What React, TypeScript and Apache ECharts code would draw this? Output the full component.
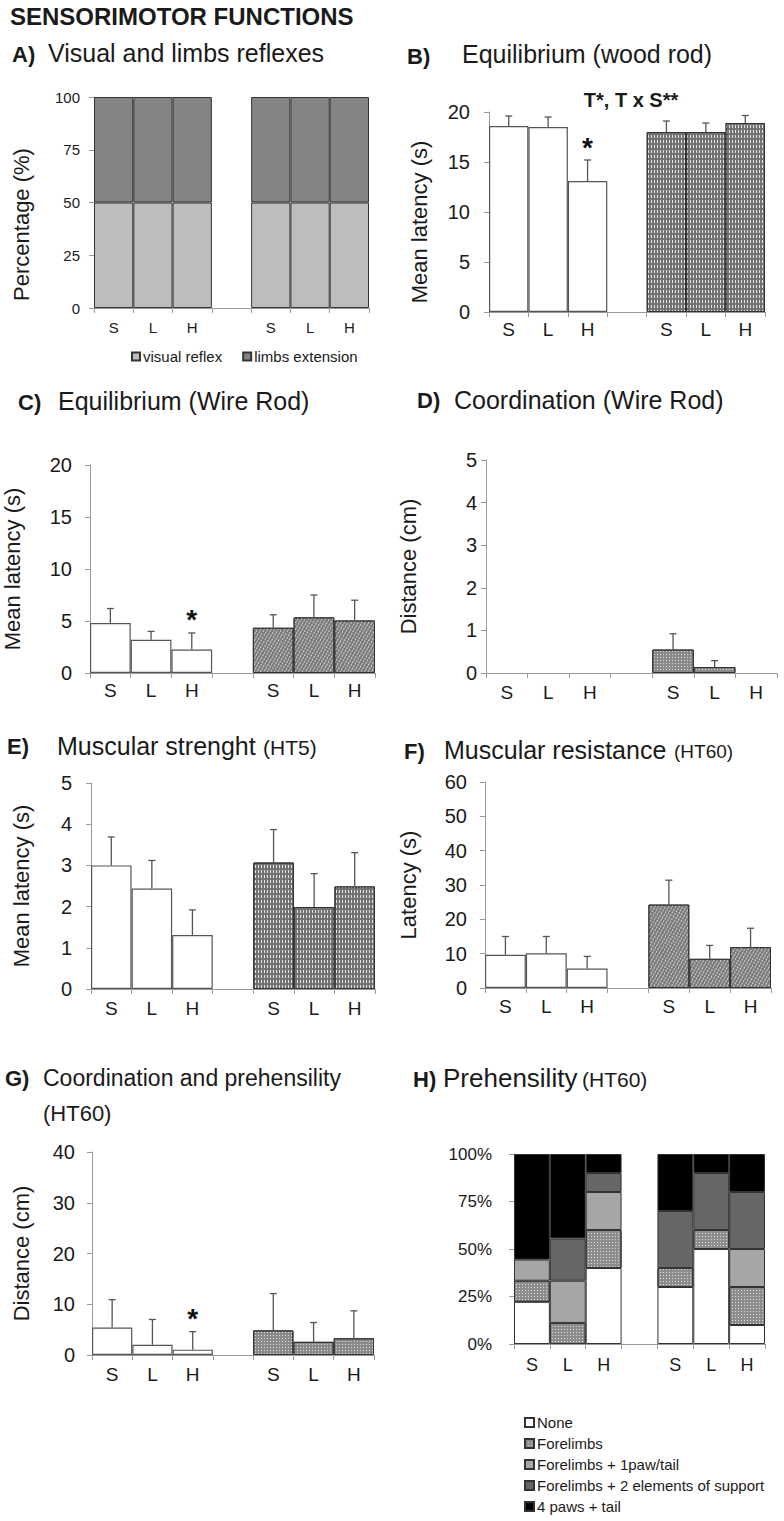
import React, { useEffect, useRef } from 'react';
import * as echarts from 'echarts';

// ---------- DATA ----------
const CATS = ['S1', 'L1', 'H1', 'gap', 'S2', 'L2', 'H2'];

// A) Visual and limbs reflexes (percentage, 6 groups)
const A_VISUAL = [50, 50, 50, 50, 50, 50];
const A_LIMBS = [50, 50, 50, 50, 50, 50];

// B) Equilibrium (wood rod)
const B_CTRL = [18.6, 18.5, 13.1];
const B_CTRL_SEM = [1.0, 1.0, 2.1];
const B_TRT = [18.0, 18.0, 18.9];
const B_TRT_SEM = [1.1, 0.9, 0.75];

// C) Equilibrium (Wire Rod)
const C_CTRL = [4.8, 3.2, 2.25];
const C_CTRL_SEM = [1.4, 0.8, 1.6];
const C_TRT = [4.35, 5.35, 5.05];
const C_TRT_SEM = [1.25, 2.15, 1.95];

// D) Coordination (Wire Rod)
const D_CTRL = [0, 0, 0];
const D_CTRL_SEM = [0, 0, 0];
const D_TRT = [0.55, 0.14, 0];
const D_TRT_SEM = [0.37, 0.15, 0];

// E) Muscular strenght (HT5)
const E_CTRL = [3.0, 2.44, 1.31];
const E_CTRL_SEM = [0.69, 0.68, 0.61];
const E_TRT = [3.07, 1.99, 2.49];
const E_TRT_SEM = [0.8, 0.81, 0.82];

// F) Muscular resistance (HT60)
const F_CTRL = [9.7, 10.1, 5.7];
const F_CTRL_SEM = [5.3, 4.9, 3.5];
const F_TRT = [24.3, 8.5, 11.9];
const F_TRT_SEM = [7.1, 3.9, 5.5];

// G) Coordination and prehensility (HT60)
const G_CTRL = [5.4, 2.0, 1.05];
const G_CTRL_SEM = [5.5, 5.0, 3.55];
const G_TRT = [4.85, 2.6, 3.3];
const G_TRT_SEM = [7.25, 3.8, 5.4];

// H) Prehensility (HT60), percentages (6 groups)
const H_NONE = [22.2, 0, 40, 30, 50, 10];
const H_FORE = [11.1, 11.1, 20, 10, 10, 20];
const H_FORE_1 = [11.1, 22.2, 20, 0, 0, 20];
const H_FORE_2 = [0, 22.2, 10, 30, 30, 30];
const H_PAWS = [55.6, 44.5, 10, 30, 10, 20];

const A_LEGEND = ['visual reflex', 'limbs extension'];
const H_LEGEND = ['None', 'Forelimbs', 'Forelimbs + 1paw/tail', 'Forelimbs + 2 elements of support', '4 paws + tail'];

// ---------- HELPERS ----------
const FONT = '"Liberation Sans", Arial, Helvetica, sans-serif';
const TXT = '#1a1a1a';
const AX = '#9a9a9a';

const six = (arr: number[]) => [arr[0], arr[1], arr[2], '-', arr[3], arr[4], arr[5]].map((v) => (v === 0 ? '-' : v));
const ctrlSlots = (arr: number[]) => [arr[0], arr[1], arr[2], '-', '-', '-', '-'].map((v) => (v === 0 ? '-' : v));
const trtSlots = (arr: number[]) => ['-', '-', '-', '-', arr[0], arr[1], arr[2]].map((v) => (v === 0 ? '-' : v));

const GRIDS = [
  { left: 94, top: 97, width: 275, height: 211 }, // A
  { left: 489, top: 112, width: 276, height: 200 }, // B
  { left: 90, top: 465, width: 285, height: 208 }, // C
  { left: 486, top: 460, width: 291, height: 213 }, // D
  { left: 91, top: 783, width: 284, height: 206 }, // E
  { left: 485, top: 782, width: 286, height: 206 }, // F
  { left: 92, top: 1152, width: 282, height: 203 }, // G
  { left: 514, top: 1154, width: 251, height: 190 }, // H
];

const makeX = (gi: number, fontSize: number, margin: number, family = FONT) => ({
  type: 'category',
  gridIndex: gi,
  data: CATS,
  axisLine: { show: true, lineStyle: { color: AX, width: 1 } },
  axisTick: { show: true, interval: 0, length: 5, lineStyle: { color: AX } },
  axisLabel: {
    interval: 0,
    fontSize,
    margin,
    color: TXT,
    fontFamily: family,
    formatter: (v: string) => (v === 'gap' ? '' : v.replace(/\d/, '')),
  },
  z: 1,
});

const makeY = (
  gi: number,
  max: number,
  interval: number,
  fontSize: number,
  margin: number,
  name: string,
  nameGap: number,
  namePad: number[] = [0, 0, 0, 0],
  fmt?: string,
  family = FONT,
) => ({
  type: 'value',
  gridIndex: gi,
  min: 0,
  max,
  interval,
  axisLine: { show: true, lineStyle: { color: AX, width: 1 } },
  axisTick: { show: true, length: 5, lineStyle: { color: AX } },
  splitLine: { show: false },
  axisLabel: { fontSize, margin, color: TXT, fontFamily: family, formatter: fmt || '{value}' },
  name,
  nameLocation: 'middle',
  nameRotate: 90,
  nameGap,
  nameTextStyle: { fontSize: 22, color: TXT, fontFamily: FONT, padding: namePad },
  z: 1,
});

const decal = (kind: string) => {
  if (kind === 'wave')
    return { symbol: 'rect', symbolSize: 1, color: 'rgba(255,255,255,0.8)', dashArrayX: [1, 2], dashArrayY: [3, 2], rotation: 0 };
  if (kind === 'dots')
    return { symbol: 'rect', symbolSize: 1, color: 'rgba(255,255,255,0.7)', dashArrayX: [1, 2], dashArrayY: [1, 2], rotation: 0 };
  return { symbol: 'rect', symbolSize: 1, color: 'rgba(255,255,255,0.7)', dashArrayX: [1, 2], dashArrayY: [2, 1], rotation: Math.PI / 6 };
};

const barPair = (gi: number, ctrl: number[], trt: number[], trtColor: string, kind: string) => [
  {
    type: 'bar',
    name: 'control' + gi,
    xAxisIndex: gi,
    yAxisIndex: gi,
    stack: 'g' + gi,
    barCategoryGap: '0%',
    data: ctrlSlots(ctrl),
    itemStyle: { color: '#ffffff', borderColor: '#555', borderWidth: 1.2 },
    silent: true,
    z: 2,
  },
  {
    type: 'bar',
    name: 'treated' + gi,
    xAxisIndex: gi,
    yAxisIndex: gi,
    stack: 'g' + gi,
    barCategoryGap: '0%',
    data: trtSlots(trt),
    itemStyle: { color: trtColor, borderColor: '#333', borderWidth: 1, decal: decal(kind) },
    silent: true,
    z: 2,
  },
];

const errSeries = (gi: number, ctrl: number[], ctrlSem: number[], trt: number[], trtSem: number[], starIdx: number) => {
  const data: number[][] = [];
  [0, 1, 2].forEach((i) => data.push([i, ctrl[i], ctrl[i] + ctrlSem[i], starIdx === i ? 1 : 0]));
  [0, 1, 2].forEach((i) => data.push([i + 4, trt[i], trt[i] + trtSem[i], 0]));
  return {
    type: 'custom',
    xAxisIndex: gi,
    yAxisIndex: gi,
    data,
    encode: { x: 0, y: [1, 2] },
    silent: true,
    z: 5,
    renderItem: (_p: any, api: any) => {
      const idx = api.value(0);
      const m = api.value(1);
      const t = api.value(2);
      const s = api.value(3);
      const p0 = api.coord([idx, m]);
      const p1 = api.coord([idx, t]);
      const children: any[] = [];
      const st = { stroke: '#555', lineWidth: 1.3 };
      if (t > m) {
        children.push({ type: 'line', shape: { x1: p0[0], y1: p0[1], x2: p1[0], y2: p1[1] }, style: st });
        children.push({ type: 'line', shape: { x1: p1[0] - 3.5, y1: p1[1], x2: p1[0] + 3.5, y2: p1[1] }, style: st });
      }
      if (s) {
        children.push({
          type: 'text',
          style: {
            text: '*',
            x: p1[0],
            y: p1[1] - 13,
            font: 'bold 28px ' + FONT,
            fill: '#111',
            align: 'center',
            verticalAlign: 'middle',
            textAlign: 'center',
            textVerticalAlign: 'middle',
          },
        });
      }
      return { type: 'group', children };
    },
  };
};

const stackSeries = (gi: number, name: string, arr: number[], color: string, dec?: any) => ({
  type: 'bar',
  name,
  xAxisIndex: gi,
  yAxisIndex: gi,
  stack: 'st' + gi,
  barCategoryGap: '0%',
  data: six(arr),
  itemStyle: dec
    ? { color, borderColor: '#333', borderWidth: 1, decal: dec }
    : { color, borderColor: '#333', borderWidth: 1 },
  silent: true,
  z: 2,
});

const txt = (text: string, x: number, y: number, font: string, align = 'left') => ({
  type: 'text',
  x,
  y,
  silent: true,
  style: {
    text,
    font,
    fill: TXT,
    textAlign: align,
    textVerticalAlign: 'middle',
    align,
    verticalAlign: 'middle',
  },
});

const LBL = 'bold 22px ' + FONT;
const TTL = '25px ' + FONT;

export default function App() {
  const ref = useRef<HTMLDivElement>(null);
  useEffect(() => {
    if (!ref.current) return;
    const chart = echarts.init(ref.current, undefined, { renderer: 'svg', width: 784, height: 1521 });
    const option: any = {
      animation: false,
      backgroundColor: '#ffffff',
      textStyle: { fontFamily: FONT },
      grid: GRIDS.map((g) => ({ ...g, containLabel: false })),
      xAxis: [
        makeX(0, 15, 12),
        makeX(1, 19, 8),
        makeX(2, 19, 8),
        makeX(3, 19, 10),
        makeX(4, 19, 10),
        makeX(5, 19, 9),
        makeX(6, 19, 10),
        makeX(7, 18, 12),
      ],
      yAxis: [
        makeY(0, 100, 25, 15, 14, 'Percentage (%)', 62, [0, 44, 0, 0]),
        makeY(1, 20, 5, 20, 19, 'Mean latency (s)', 59, [0, 20, 0, 0]),
        makeY(2, 20, 5, 20, 18, 'Mean latency (s)', 67),
        makeY(3, 5, 1, 20, 9, 'Distance (cm)', 67),
        makeY(4, 5, 1, 20, 19, 'Mean latency (s)', 59),
        makeY(5, 60, 10, 20, 18, 'Latency (s)', 66),
        makeY(6, 40, 10, 20, 17, 'Distance (cm)', 60),
        makeY(7, 100, 25, 17, 22, '', 0, [0, 0, 0, 0], '{value}%'),
      ],
      legend: [
        {
          data: A_LEGEND,
          left: 126,
          top: 344,
          itemWidth: 8,
          itemHeight: 8,
          itemGap: 20,
          icon: 'rect',
          selectedMode: false,
          textStyle: { fontSize: 15, color: TXT, padding: [0, 0, 0, -2] },
        },
        {
          data: H_LEGEND,
          orient: 'vertical',
          left: 519,
          top: 1410,
          itemWidth: 9,
          itemHeight: 9,
          itemGap: 6,
          icon: 'rect',
          selectedMode: false,
          textStyle: { fontSize: 15, color: TXT, padding: [0, 0, 0, -2] },
        },
      ],
      series: [
        // A
        stackSeries(0, A_LEGEND[0], A_VISUAL, '#bdbdbd'),
        stackSeries(0, A_LEGEND[1], A_LIMBS, '#848484'),
        // B
        ...barPair(1, B_CTRL, B_TRT, '#727272', 'wave'),
        errSeries(1, B_CTRL, B_CTRL_SEM, B_TRT, B_TRT_SEM, 2),
        // C
        ...barPair(2, C_CTRL, C_TRT, '#7a7a7a', 'hatch'),
        errSeries(2, C_CTRL, C_CTRL_SEM, C_TRT, C_TRT_SEM, 2),
        // D
        ...barPair(3, D_CTRL, D_TRT, '#8a8a8a', 'dots'),
        errSeries(3, D_CTRL, D_CTRL_SEM, D_TRT, D_TRT_SEM, -1),
        // E
        ...barPair(4, E_CTRL, E_TRT, '#727272', 'wave'),
        errSeries(4, E_CTRL, E_CTRL_SEM, E_TRT, E_TRT_SEM, -1),
        // F
        ...barPair(5, F_CTRL, F_TRT, '#7a7a7a', 'hatch'),
        errSeries(5, F_CTRL, F_CTRL_SEM, F_TRT, F_TRT_SEM, -1),
        // G
        ...barPair(6, G_CTRL, G_TRT, '#8a8a8a', 'dots'),
        errSeries(6, G_CTRL, G_CTRL_SEM, G_TRT, G_TRT_SEM, 2),
        // H
        stackSeries(7, H_LEGEND[0], H_NONE, '#ffffff'),
        stackSeries(7, H_LEGEND[1], H_FORE, '#8c8c8c', decal('dots')),
        stackSeries(7, H_LEGEND[2], H_FORE_1, '#a6a6a6'),
        stackSeries(7, H_LEGEND[3], H_FORE_2, '#666666'),
        stackSeries(7, H_LEGEND[4], H_PAWS, '#000000'),
      ],
      graphic: [
        txt('SENSORIMOTOR FUNCTIONS', 10, 16, 'bold 24px ' + FONT),
        txt('A)', 12, 54, LBL),
        txt('Visual and limbs reflexes', 48, 53, TTL),
        txt('B)', 407, 56, LBL),
        txt('Equilibrium (wood rod)', 462, 54, TTL),
        txt('T*, T x S**', 631, 100, 'bold 20px ' + FONT, 'center'),
        txt('C)', 18, 402, LBL),
        txt('Equilibrium (Wire Rod)', 58, 401, TTL),
        txt('D)', 417, 400, LBL),
        txt('Coordination (Wire Rod)', 454, 400, TTL),
        txt('E)', 7, 746, LBL),
        txt('Muscular strenght', 57, 746, TTL),
        txt('(HT5)', 263, 747, '21px ' + FONT),
        txt('F)', 404, 751, LBL),
        txt('Muscular resistance', 444, 750, TTL),
        txt('(HT60)', 674, 751, '19px ' + FONT),
        txt('G)', 5, 1078, LBL),
        txt('Coordination and prehensility', 43, 1078, '23px ' + FONT),
        txt('(HT60)', 43, 1113, '22px ' + FONT),
        txt('H)', 413, 1079, LBL),
        txt('Prehensility', 443, 1078, '26px ' + FONT),
        txt('(HT60)', 582, 1079, '21px ' + FONT),
      ],
    };
    chart.setOption(option);
    return () => chart.dispose();
  }, []);
  return (
    <div
      ref={ref}
      style={{ position: 'absolute', left: 0, top: 0, width: 784, height: 1521, background: '#fff' }}
    />
  );
}
